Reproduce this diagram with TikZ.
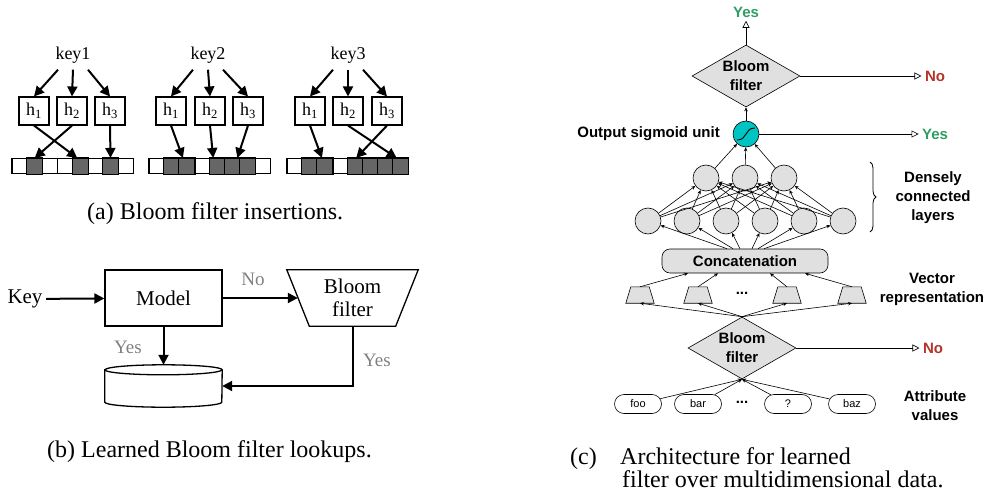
\documentclass[tikz,border=0pt]{standalone}
\usepackage{fontspec}
\setmainfont{Liberation Serif}
\newfontfamily\helvfont{Liberation Sans}
\usepackage{tikz}
\usetikzlibrary{calc, positioning, arrows.meta, shapes.geometric, shapes.misc, decorations.pathreplacing}

\definecolor{bitgray}{RGB}{102,102,102}
\definecolor{nodegray}{RGB}{224,224,224}
\definecolor{sigteal}{RGB}{0,196,196}
\definecolor{yesgreen}{RGB}{46,158,98}
\definecolor{nored}{RGB}{178,52,42}
\definecolor{lblgray}{RGB}{128,128,128}

\tikzset{
  fatarrow/.style={line width=2pt, -{Triangle[length=10pt,width=10pt]}},
  hashbox/.style={draw, line width=1.1pt, fill=white, minimum width=30pt, minimum height=28pt, inner sep=0pt, font=\fontsize{18}{20}\selectfont},
  bit/.style={draw, line width=1.1pt, fill=white, minimum width=15.15pt, minimum height=15pt, inner sep=0pt},
  serifbig/.style={font=\fontsize{21}{23}\selectfont},
  graylbl/.style={text=lblgray, font=\fontsize{19}{22}\selectfont},
  capt/.style={anchor=base west, inner sep=0pt, font=\fontsize{24}{28}\selectfont},
  boldsans/.style={font=\helvfont\bfseries\fontsize{15}{19}\selectfont},
  thinarrow/.style={line width=0.6pt, -{Stealth[length=4pt,width=3.5pt]}},
  openarrow/.style={line width=0.6pt, -{Triangle[open,length=7pt,width=7pt]}},
  neuron/.style={circle, draw, line width=0.6pt, fill=nodegray, minimum size=26pt, inner sep=0pt},
  decision/.style={diamond, draw, line width=0.6pt, fill=nodegray, minimum width=108pt, minimum height=62pt, inner sep=0pt, aspect=1.74, align=center, boldsans},
  attr/.style={rounded rectangle, draw, line width=0.6pt, minimum width=47pt, minimum height=19pt, inner sep=0pt, font=\helvfont\fontsize{11}{13}\selectfont},
  vecbox/.style={minimum width=28pt, minimum height=16pt, inner sep=0pt},
}

\begin{document}
\begin{tikzpicture}[x=1pt, y=-1pt]
    \useasboundingbox (0,0) rectangle (985,492);

    % (a) bit arrays after each insertion
    \foreach \a/\ax/\on in {1/12/{1,4,6}, 2/149/{1,2,4,5,6}, 3/287/{1,2,4,5,6,7}} {
        \foreach \i in {0,...,7} {
            \node[bit] (b\a\i) at ({\ax+7.6+15.15*\i},166) {};
        }
        \foreach \i in \on {
            \path[draw, line width=1.1pt, fill=bitgray] (b\a\i.north west) rectangle (b\a\i.south east);
        }
    }
    % (a) keys and hash functions
    \foreach \k/\kx/\ha/\hb/\hc in {1/73/34/72/110, 2/208/171/210/248, 3/348/310/348/387} {
        \node[font=\fontsize{18}{20}\selectfont] (key\k) at (\kx,55) {key\k};
        \node[hashbox] (h\k1) at (\ha,111) {h\textsubscript{1}};
        \node[hashbox] (h\k2) at (\hb,111) {h\textsubscript{2}};
        \node[hashbox] (h\k3) at (\hc,111) {h\textsubscript{3}};
        \draw[fatarrow] ([xshift=-15pt,yshift=-3pt]key\k.south) -- (h\k1.north);
        \draw[fatarrow] ([yshift=-3pt]key\k.south) -- (h\k2.north);
        \draw[fatarrow] ([xshift=15pt,yshift=-3pt]key\k.south) -- (h\k3.north);
    }
    % (a) hash values into the bits
    \foreach \k/\ta/\sa/\tb/\sb/\tc/\sc in {1/4/-3/1/0/6/0, 2/2/-4/4/-4/5/5, 3/2/-3/7/-4/4/1} {
        \draw[fatarrow] (h\k1.south) -- ([xshift=\sa pt]b\k\ta.north);
        \draw[fatarrow] (h\k2.south) -- ([xshift=\sb pt]b\k\tb.north);
        \draw[fatarrow] (h\k3.south) -- ([xshift=\sc pt]b\k\tc.north);
    }

    % (b) learned Bloom filter lookup
    \node[serifbig] (keyb) at (25,299) {Key};
    \node[draw, line width=1.3pt, minimum width=117pt, minimum height=56pt, serifbig] (model) at (163.5,298) {Model};
    \node[minimum width=131pt, minimum height=56pt, inner sep=0pt, align=center, serifbig] (bf) at (352.5,298) {Bloom\\filter};
    \draw[line width=1.3pt] (bf.north west) -- (bf.north east) -- ([xshift=-22.5pt]bf.south east) -- ([xshift=22.5pt]bf.south west) -- cycle;
    \node[minimum width=117pt, minimum height=42pt, inner sep=0pt] (db) at (163.5,386) {};
    \draw[line width=1.3pt, fill=white] ([yshift=-5pt]db.north west) -- ([yshift=5pt]db.south west)
        arc[start angle=180, end angle=360, x radius=58.5pt, y radius=5pt] -- ([yshift=-5pt]db.north east)
        arc[start angle=0, end angle=180, x radius=58.5pt, y radius=5pt] -- cycle;
    \draw[line width=1.3pt] ([yshift=-5pt]db.north west) arc[start angle=180, end angle=360, x radius=58.5pt, y radius=5pt];
    \draw[fatarrow] (keyb) -- (model);
    \draw[fatarrow] (model) -- ([xshift=11pt]bf.west);
    \draw[fatarrow] (model) -- (db.north);
    \draw[fatarrow] (bf.south) |- (db.east);
    \node[graylbl] (nob) at (253,279) {No};
    \node[graylbl] (yesbl) at (128,347) {Yes};
    \node[graylbl] (yesbr) at (377,360) {Yes};

    % (c) network nodes
    \node[decision] (bf1) at (746,76) {Bloom\\filter};
    \node[circle, draw, line width=0.6pt, fill=sigteal, minimum size=26pt, inner sep=0pt] (sig) at (746,134) {};
    \draw[line width=0.9pt] ([xshift=-9pt,yshift=-6pt]sig.center) .. controls ([xshift=2pt,yshift=-6pt]sig.center) and ([xshift=-2pt,yshift=6pt]sig.center) .. ([xshift=9pt,yshift=6pt]sig.center);
    \foreach \j/\x in {1/706,2/745,3/784} {
        \node[neuron] (m\j) at (\x,178) {};
    }
    \foreach \i/\x in {1/648,2/687,3/726,4/765,5/804,6/843} {
        \node[neuron] (n\i) at (\x,221) {};
    }
    \node[draw, line width=0.6pt, fill=nodegray, rounded corners=8pt, minimum width=166pt, minimum height=24pt, boldsans] (concat) at (745,261) {Concatenation};
    \foreach \v/\x in {1/640,2/698,3/787,4/852} {
        \node[vecbox] (v\v) at (\x,295) {};
        \draw[line width=0.6pt, fill=nodegray] ([xshift=5pt]v\v.north west) -- ([xshift=-5pt]v\v.north east) -- (v\v.south east) -- (v\v.south west) -- cycle;
    }
    \node[boldsans] (vdots) at (742,293) {...};
    \node[decision] (bf2) at (742,348) {Bloom\\filter};
    \foreach \p/\x/\t in {foo/638/foo, bar/698/bar, unk/788/?, baz/852/baz} {
        \node[attr] (\p) at (\x,404) {\t};
    }
    \node[boldsans] (adots) at (742,402) {...};

    % (c) connections
    \foreach \i in {1,...,6} {
        \foreach \j in {1,2,3} {
            \draw[thinarrow] (n\i) -- (m\j);
        }
    }
    \foreach \j in {1,2,3} {
        \draw[thinarrow] (m\j) -- (sig);
    }
    \draw[thinarrow] (sig) -- (bf1);
    \foreach \i/\dx in {1/-18,2/-12,3/-5,4/7,5/13,6/19} {
        \draw[thinarrow] ([xshift=\dx pt]concat.north) -- (n\i);
    }
    \foreach \v/\dx in {1/-57,2/-27,3/25,4/60} {
        \draw[thinarrow] (v\v.north) -- ([xshift=\dx pt]concat.south);
        \draw[thinarrow] (bf2.north) -- (v\v.south);
    }
    \foreach \p in {foo,bar,unk,baz} {
        \draw[thinarrow] (\p) -- (bf2.south);
    }

    % (c) outputs
    \node[boldsans, text=yesgreen] (yestop) at (746,12) {Yes};
    \draw[openarrow] (bf1) -- (yestop);
    \node[boldsans, text=nored] (no1) at (935,76) {No};
    \draw[openarrow] (bf1) -- (no1);
    \node[boldsans, text=yesgreen] (yes1) at (935,134) {Yes};
    \draw[openarrow] (sig) -- (yes1);
    \node[boldsans, text=nored] (no2) at (933,348) {No};
    \draw[openarrow] (bf2) -- (no2);

    % (c) side labels
    \node[boldsans, anchor=east, inner sep=0pt] (outlbl) at (720,134) {Output sigmoid unit};
    \node[boldsans, align=center] (dense) at (933,198) {Densely\\connected\\layers};
    \draw[decorate, decoration={brace, amplitude=6pt}, line width=0.8pt] (870,162) -- (870,232);
    \node[boldsans, align=center] (veclbl) at (932,289) {Vector\\representation};
    \node[boldsans, align=center] (attrlbl) at (935,406) {Attribute\\values};

    % captions
    \node[capt] (capa) at (87,219) {(a) Bloom filter insertions.};
    \node[capt] (capb) at (47,457) {(b) Learned Bloom filter lookups.};
    \node[capt] (capc) at (570,464) {(c)};
    \node[capt] (capc1) at (620,464) {Architecture for learned};
    \node[capt] (capc2) at (622,487) {filter over multidimensional data.};
\end{tikzpicture}
\end{document}
